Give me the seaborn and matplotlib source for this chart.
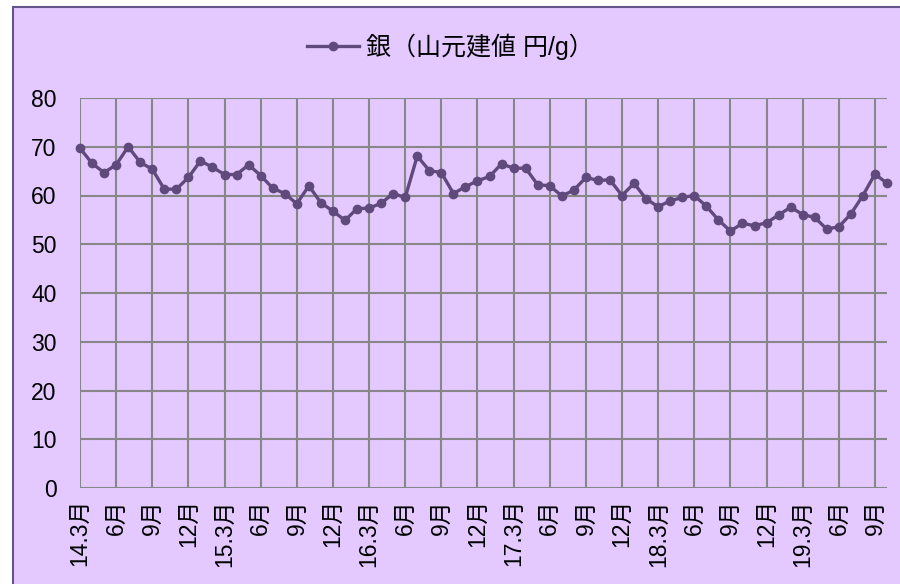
import numpy as np
import pandas as pd
import matplotlib
matplotlib.use("Agg")
import matplotlib.pyplot as plt
from matplotlib.patches import Rectangle
import seaborn as sns

# data: silver, mine price, yen per gram, monthly 2014.3 - 2019.10
silver = [69.7, 66.6, 64.7, 66.3, 70.0, 66.8, 65.4, 61.3, 61.3, 63.7,
          67.1, 65.8, 64.3, 64.3, 66.3, 64.1, 61.5, 60.4, 58.3, 62.0,
          58.5, 56.8, 54.9, 57.3, 57.4, 58.4, 60.4, 59.6, 68.1, 65.1,
          64.7, 60.4, 61.8, 63.0, 63.9, 66.5, 65.6, 65.6, 62.2, 62.0,
          59.9, 61.1, 63.7, 63.1, 63.2, 60.0, 62.5, 59.3, 57.7, 58.9,
          59.6, 60.0, 57.8, 55.0, 52.7, 54.3, 53.8, 54.4, 56.0, 57.6,
          56.1, 55.5, 53.1, 53.6, 56.2, 60.0, 64.4, 62.5]
tick_labels = ['14.3月', '6月', '9月', '12月',
               '15.3月', '6月', '9月', '12月',
               '16.3月', '6月', '9月', '12月',
               '17.3月', '6月', '9月', '12月',
               '18.3月', '6月', '9月', '12月',
               '19.3月', '6月', '9月']
series_name = '銀（山元建値 円/g）'

df = pd.DataFrame({'month': np.arange(len(silver)), 'price': silver})

plt.rcParams['font.family'] = ['Liberation Sans', 'Noto Sans CJK JP', 'DejaVu Sans']

bg = '#E3C9FF'
line_col = '#604A7B'
grid_col = '#878787'

fig = plt.figure(figsize=(9, 5.84), dpi=100)
fig.patch.set_facecolor('white')
# chart area box (extends past right/bottom edge like the reference)
box = Rectangle((13 / 900, -0.05), 1.2, 1 - 7 / 584 + 0.05,
                transform=fig.transFigure, facecolor=bg,
                edgecolor='#65558A', linewidth=1.5, zorder=-10)
fig.add_artist(box)

ax = fig.add_axes([80 / 900, 96 / 584, 807 / 900, 390 / 584])
ax.set_zorder(1)
ax.set_facecolor('none')

sns.lineplot(data=df, x='month', y='price', ax=ax, color=line_col,
             linewidth=2.4, marker='o', markersize=7, markeredgewidth=0,
             label=series_name, clip_on=False, zorder=3)

ax.set_xlim(0, len(silver) - 1)
ax.set_ylim(0, 80)
ax.set_xticks(np.arange(0, len(silver), 3))
ax.set_xticklabels(tick_labels, rotation=90)
ax.set_yticks(np.arange(0, 81, 10))
ax.grid(True, color=grid_col, linewidth=1.5)
ax.set_axisbelow(True)
for s in ax.spines.values():
    s.set_visible(False)
ax.tick_params(axis='both', length=0, labelsize=16.5, colors='black')
ax.tick_params(axis='y', pad=17)
ax.tick_params(axis='x', pad=8)
ax.set_xlabel('')
ax.set_ylabel('')

ax.legend(loc='center', bbox_to_anchor=(0.5, 1 - 47 / 584),
          bbox_transform=fig.transFigure, frameon=False, fontsize=18,
          handlelength=2.1, handletextpad=0.25)

fig.savefig('out.png', dpi=100)
